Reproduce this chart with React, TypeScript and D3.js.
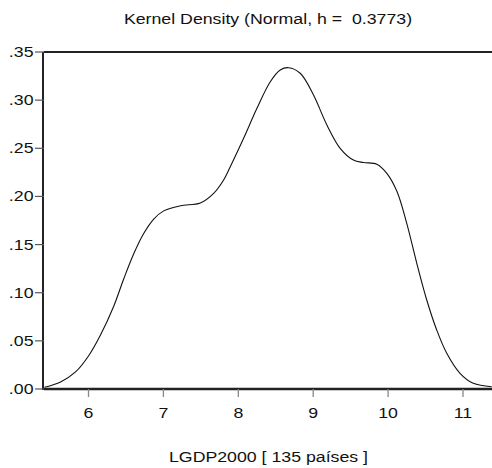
import React from "react";
import * as d3 from "d3";

const xs = [5.413, 5.627, 5.827, 6.0, 6.16, 6.337, 6.471, 6.604, 6.737, 6.871, 7.004, 7.227, 7.493, 7.671, 7.804, 7.893, 8.071, 8.249, 8.427, 8.56, 8.671, 8.827, 9.004, 9.183, 9.36, 9.537, 9.671, 9.849, 9.983, 10.116, 10.249, 10.383, 10.516, 10.649, 10.783, 10.96, 11.137, 11.383];
const ys = [0.0018, 0.0073, 0.0177, 0.0343, 0.0561, 0.0860, 0.1145, 0.1405, 0.1615, 0.1765, 0.1850, 0.1903, 0.1932, 0.2032, 0.2171, 0.2309, 0.2604, 0.2915, 0.3191, 0.3313, 0.3337, 0.3279, 0.3053, 0.2742, 0.25, 0.2378, 0.2352, 0.2335, 0.224, 0.2056, 0.1721, 0.1305, 0.0924, 0.0613, 0.0371, 0.0163, 0.0059, 0.0024];
const xTicks = [6, 7, 8, 9, 10, 11];
const yTicks = [0, 0.05, 0.1, 0.15, 0.2, 0.25, 0.3, 0.35];
const yTickLabels = [".00", ".05", ".10", ".15", ".20", ".25", ".30", ".35"];
const title = "Kernel Density (Normal, h =  0.3773)";
const xTitle = "LGDP2000 [ 135 países ]";

const W = 492, H = 468;
const L = 44, R = 492, T = 52, B = 389;
const SX = 1.16;
const font = "'Liberation Sans', Arial, Helvetica, sans-serif";

function T2({ x, y, anchor, children }: { x: number; y: number; anchor: string; children: React.ReactNode }) {
  return (
    <text transform={`translate(${x},${y}) scale(${SX},1)`} x={0} y={0} textAnchor={anchor}
      fontSize={15.3} fill="#111" style={{ whiteSpace: "pre" }}>{children}</text>
  );
}

export default function App() {
  const x = d3.scaleLinear().domain([6, 11]).range([88.5, 463]);
  const y = d3.scaleLinear().domain([0, 0.35]).range([B, T]);
  const pts = xs.map((v, i) => [v, ys[i]] as [number, number]);
  const line = d3.line<[number, number]>().x(d => x(d[0])).y(d => y(d[1])).curve(d3.curveCatmullRom.alpha(0.5));
  return (
    <svg width={W} height={H} style={{ position: "absolute", left: 0, top: 0, background: "#fff" }} fontFamily={font}>
      <rect x={0} y={0} width={W} height={H} fill="#fff" />
      <T2 x={(L + R) / 2} y={24} anchor="middle">{title}</T2>
      <path d={line(pts) || ""} fill="none" stroke="#111" strokeWidth={1.1} />
      <line x1={L} x2={R} y1={T} y2={T} stroke="#222" strokeWidth={2} />
      <line x1={L} x2={R} y1={B} y2={B} stroke="#222" strokeWidth={2.5} />
      <line x1={L - 1} x2={L - 1} y1={T} y2={B + 1} stroke="#222" strokeWidth={2} />
      {yTicks.map((t, i) => (
        <g key={t}>
          <line x1={35} x2={L} y1={y(t)} y2={y(t)} stroke="#555" strokeWidth={1.2} />
          <T2 x={33.5} y={y(t) + 5} anchor="end">{yTickLabels[i]}</T2>
        </g>
      ))}
      {xTicks.map(t => (
        <g key={t}>
          <line x1={x(t)} x2={x(t)} y1={B} y2={B + 8} stroke="#888" strokeWidth={1.3} />
          <T2 x={x(t)} y={418} anchor="middle">{t}</T2>
        </g>
      ))}
      <T2 x={(L + R) / 2 + 0.5} y={H - 6} anchor="middle">{xTitle}</T2>
    </svg>
  );
}
